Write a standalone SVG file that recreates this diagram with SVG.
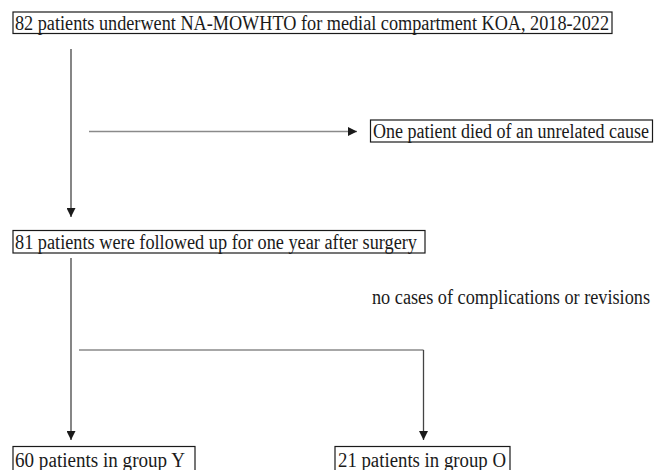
<svg xmlns="http://www.w3.org/2000/svg" width="654" height="470" viewBox="0 0 654 470">
<style>
.box{fill:#fff;stroke:#1a1a1a;stroke-width:1.2}
.t{font-family:'Liberation Serif','Times New Roman',Tinos,'DejaVu Serif',serif;font-size:20px;fill:#1a1a1a}
.v{stroke:#444;stroke-width:1.3;fill:none}
.h{stroke:#8a8a8a;stroke-width:1.6;fill:none}
</style>
<defs>
<marker id="ah" markerWidth="9" markerHeight="9" refX="9" refY="4.5" orient="auto" markerUnits="userSpaceOnUse">
<path d="M0,0 L9,4.5 L0,9 Z" fill="#1a1a1a"/>
</marker>
</defs>
<rect width="654" height="470" fill="#fff"/>
<g id="connectors">
<line class="v" x1="71" y1="49" x2="71" y2="217" marker-end="url(#ah)"/>
<line class="h" x1="89" y1="131.5" x2="357" y2="131.5" marker-end="url(#ah)"/>
<line class="v" x1="71" y1="258" x2="71" y2="440" marker-end="url(#ah)"/>
<polyline class="h" points="79,350 423.5,350"/>
<line class="v" x1="423.5" y1="350" x2="423.5" y2="440" marker-end="url(#ah)"/>
</g>
<g id="n1">
<rect class="box" x="13" y="12" width="599" height="21.5"/>
<text class="t" x="15" y="29.5" textLength="594" lengthAdjust="spacingAndGlyphs">82 patients underwent NA-MOWHTO for medial compartment KOA, 2018-2022</text>
</g>
<g id="n2">
<rect class="box" x="370.5" y="120" width="282" height="22"/>
<text class="t" x="373" y="138" textLength="276" lengthAdjust="spacingAndGlyphs">One patient died of an unrelated cause</text>
</g>
<g id="n3">
<rect class="box" x="13" y="230.5" width="412" height="22.5"/>
<text class="t" x="15" y="248.5" textLength="402" lengthAdjust="spacingAndGlyphs">81 patients were followed up for one year after surgery</text>
</g>
<g id="n4">
<text class="t" x="372" y="304" textLength="278" lengthAdjust="spacingAndGlyphs">no cases of complications or revisions</text>
</g>
<g id="n5">
<rect class="box" x="13" y="446.5" width="182" height="30"/>
<text class="t" x="15" y="466.5" textLength="170" lengthAdjust="spacingAndGlyphs">60 patients in group Y</text>
</g>
<g id="n6">
<rect class="box" x="335" y="446.5" width="175" height="30"/>
<text class="t" x="338" y="466.5" textLength="168" lengthAdjust="spacingAndGlyphs">21 patients in group O</text>
</g>
</svg>
